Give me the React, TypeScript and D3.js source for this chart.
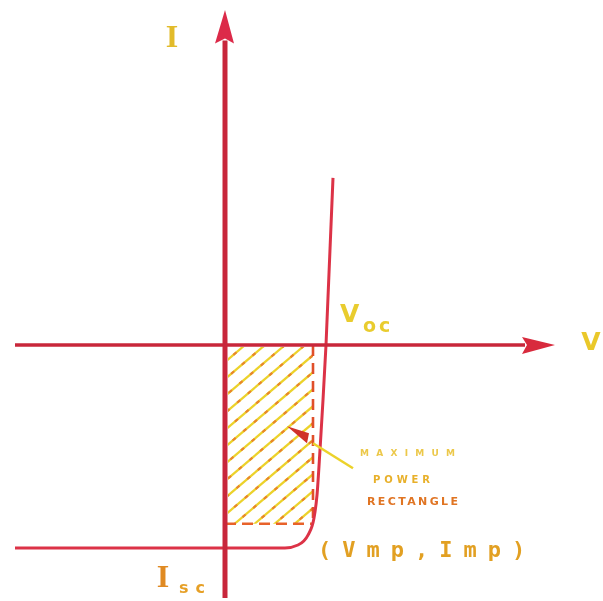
import React from "react";
import * as d3 from "d3";

// Solar cell I–V characteristic (illuminated, current drawn negative)
const W = 603;
const H = 601;

// Voltage / current extents of the plotted window
const vDomain = [-2.1, 3.3];
const iDomain = [1.64, -1.246];

// Open-circuit voltage, short-circuit current, maximum power point
const voc = 1.01;
const isc = -1.0;
const vmp = 0.88;
const imp = -0.88;

// I–V curve samples (V, I)
const curveV = [-2.1, 0.6, 0.73, 0.83, 0.89, 0.92, 0.95, 0.98, 1.01, 1.08];
const curveI = [-1.0, -1.0, -0.985, -0.936, -0.852, -0.739, -0.517, -0.271, 0.0, 0.823];

// Labels
const axisLabelI = "I";
const axisLabelV = "V";
const vocMain = "V";
const vocSub = "oc";
const iscMain = "I";
const iscSub = "sc";
const mppLabel = "(Vmp,Imp)";
const noteLines = ["MAXIMUM", "POWER", "RECTANGLE"];
// Point the note arrow at, inside the rectangle (V, I)
const noteTarget = [0.62, -0.4];

export default function App() {
  const x = d3.scaleLinear().domain(vDomain).range([15, 555]);
  const y = d3.scaleLinear().domain(iDomain).range([12, 598]);

  const x0 = x(0);
  const y0 = y(0);

  const pts: [number, number][] = curveV.map((v, k) => [v, curveI[k]]);
  const line = d3
    .line<[number, number]>()
    .x((d) => x(d[0]))
    .y((d) => y(d[1]))
    .curve(d3.curveMonotoneX);

  const rx0 = x(0);
  const rx1 = x(vmp);
  const ry0 = y(0);
  const ry1 = y(imp);

  // diagonal hatch lines across the rectangle
  const hatchSpacing = 17;
  const slope = 0.85;
  const rectW = rx1 - rx0;
  const rectH = ry1 - ry0;
  const offsets = d3.range(-rectW * slope, rectH + hatchSpacing, hatchSpacing);

  const tx = x(noteTarget[0]);
  const ty = y(noteTarget[1]);

  const red = "#c8283a";
  const brightRed = "#dc3346";
  const yellow = "#ecd22c";
  const orange = "#e8862a";

  return (
    <svg
      width={W}
      height={H}
      viewBox={`0 0 ${W} ${H}`}
      style={{ position: "absolute", left: 0, top: 0, background: "#fff" }}
    >
      <defs>
        <clipPath id="mpr">
          <rect x={rx0 + 3} y={ry0 + 2} width={rectW - 3} height={rectH - 2} />
        </clipPath>
        <filter id="soft" x="-5%" y="-5%" width="110%" height="110%">
          <feGaussianBlur stdDeviation="0.5" />
        </filter>
      </defs>

      <g filter="url(#soft)">
        {/* hatched maximum power rectangle */}
        <g clipPath="url(#mpr)">
          {offsets.map((o, k) => (
            <g key={k}>
              <line
                x1={rx0}
                y1={ry0 + o + rectW * slope}
                x2={rx1}
                y2={ry0 + o}
                stroke={yellow}
                strokeWidth={2.2}
              />
              <line
                x1={rx0}
                y1={ry0 + o + rectW * slope}
                x2={rx1}
                y2={ry0 + o}
                stroke={orange}
                strokeWidth={2.2}
                strokeDasharray="4 10"
                strokeDashoffset={k * 3}
              />
            </g>
          ))}
        </g>
        <line x1={rx1} y1={ry0} x2={rx1} y2={ry1} stroke="#e0502a" strokeWidth={2.6} strokeDasharray="11 7" />
        <line x1={rx0} y1={ry1} x2={rx1} y2={ry1} stroke="#e8622a" strokeWidth={2.6} strokeDasharray="11 6" />

        {/* short-circuit current line and I–V curve */}
        <path d={line(pts) || ""} fill="none" stroke={brightRed} strokeWidth={3} />

        {/* voltage axis */}
        <line x1={x(vDomain[0])} y1={y0} x2={x(3.0)} y2={y0} stroke={red} strokeWidth={3.5} />
        <polygon
          points={`${x(3.3)},${y0} ${x(2.97)},${y0 - 8} ${x(3.02)},${y0} ${x(2.97)},${y0 + 9}`}
          fill="#d82a3c"
        />
        {/* current axis */}
        <line x1={x0} y1={y(iDomain[1])} x2={x0} y2={y(1.5)} stroke={red} strokeWidth={5} />
        <polygon
          points={`${x0},${y(iDomain[0]) - 2} ${x0 - 10},${y(1.485)} ${x0},${y(1.51)} ${x0 + 9},${y(1.485)}`}
          fill="#dc2c4a"
        />

        {/* axis labels */}
        <text x={172} y={47} fontFamily="Liberation Serif" fontWeight="bold" fontSize={32} fill="#e2bb2a" textAnchor="middle">
          {axisLabelI}
        </text>
        <text x={591} y={350} fontFamily="DejaVu Sans" fontWeight="bold" fontSize={25} fill="#eac82a" textAnchor="middle">
          {axisLabelV}
        </text>

        {/* Voc */}
        <text x={x(voc) + 14} y={y0 - 23} fontFamily="DejaVu Sans" fontWeight="bold" fontSize={25} fill="#e9cc2e">
          {vocMain}
        </text>
        <text x={x(voc) + 37} y={y0 - 13} fontFamily="DejaVu Sans" fontWeight="bold" fontSize={19} letterSpacing={3} fill="#e9cc2e">
          {vocSub}
        </text>

        {/* Isc */}
        <text x={163} y={y(isc) + 39} fontFamily="Liberation Serif" fontWeight="bold" fontSize={32} fill="#e08a22" textAnchor="middle">
          {iscMain}
        </text>
        <text x={179} y={y(isc) + 45} fontFamily="DejaVu Sans" fontWeight="bold" fontSize={16} letterSpacing={7} fill="#e6a028">
          {iscSub}
        </text>

        {/* maximum power point label */}
        <text
          x={318}
          y={557}
          fontFamily="DejaVu Sans Mono"
          fontWeight="bold"
          fontSize={22}
          letterSpacing={11}
          fill="#e2a024"
        >
          {mppLabel}
        </text>

        {/* note arrow */}
        <polygon
          points={`${tx},${ty} ${tx + 22},${ty + 7} ${tx + 20},${ty + 17}`}
          fill="#d0302a"
        />
        <line x1={tx + 26} y1={ty + 17} x2={tx + 66} y2={ty + 42} stroke={yellow} strokeWidth={2.5} />

        {/* note text */}
        {noteLines.map((t, k) => (
          <text
            key={t}
            x={[360, 373, 367][k]}
            y={[456, 483, 505][k]}
            textLength={[95, 57, 91][k]}
            lengthAdjust="spacing"
            fontFamily="DejaVu Sans"
            fontWeight="bold"
            fontSize={[9, 10, 11][k]}
            fill={["#ecc84a", "#e8b02a", "#e07424"][k]}
          >
            {t}
          </text>
        ))}
      </g>
    </svg>
  );
}
